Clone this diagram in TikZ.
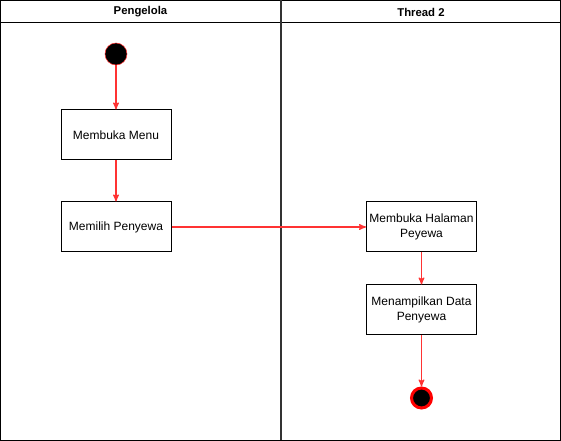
\documentclass[tikz,border=0pt]{standalone}
\usepackage{fontspec}
\setmainfont{Liberation Sans}
\usetikzlibrary{arrows}
\definecolor{flowred}{HTML}{FF3333}

\begin{document}
\begin{tikzpicture}[x=0.75pt,y=-0.75pt, font=\fontsize{9}{11}\selectfont,
   act/.style={draw, line width=0.75pt, minimum width=82.5pt, minimum height=37.5pt, align=center, inner sep=1pt},
   flow/.style={draw=flowred, line width=0.9pt, -stealth'},
   lane/.style={draw, line width=0.75pt},
   lanetitle/.style={font=\fontsize{8.5}{10}\selectfont\bfseries}]
      \useasboundingbox (0,0) rectangle (561,441);
      \draw[lane] (0.5,0.5) rectangle (560.5,440.5);
      \draw[lane] (0.5,23) -- (560.5,23);
      \draw[lane, line width=1.5pt, black!80] (281,0.5) -- (281,440.5);
      \node[lanetitle, name=t1] at (140.5,12){Pengelola};
      \node[lanetitle, name=t2] at (421,12){Thread 2};
      \node[name=start, circle, draw=flowred, fill=black, minimum size=16.5pt, inner sep=0pt] at (116,54){};
      \node[act, name=menu] at (116,135){Membuka Menu};
      \node[act, name=pilih] at (116,227){Memilih Penyewa};
      \node[act, name=halaman] at (421.5,227){Membuka Halaman\\Peyewa};
      \node[act, name=tampil] at (421.5,310){Menampilkan Data\\Penyewa};
      \node[name=stop, circle, draw=red, line width=2.25pt, fill=black, minimum size=15pt, inner sep=0pt] at (421.5,398){};
      \draw[flow] (start) -- (menu);
      \draw[flow] (menu) -- (pilih);
      \draw[flow] (pilih) -- (halaman);
      \draw[flow] (halaman) -- (tampil);
      \draw[flow] (tampil) -- (stop);
   \end{tikzpicture}
\end{document}
